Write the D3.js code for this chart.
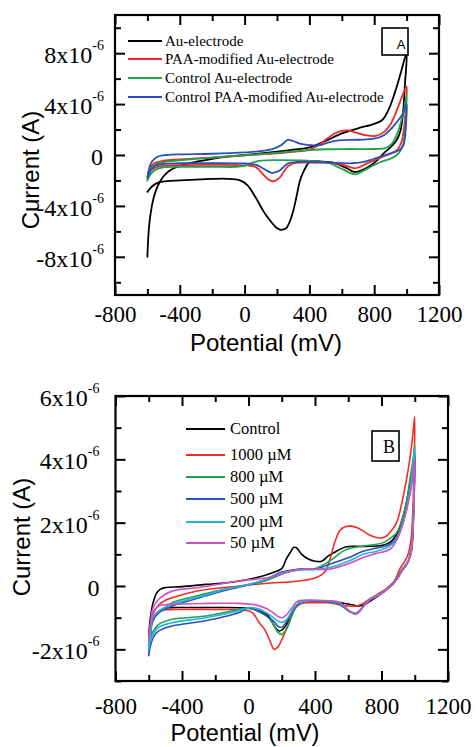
<!DOCTYPE html>
<html><head><meta charset="utf-8">
<script src="https://cdn.jsdelivr.net/npm/d3@7"></script>
<style>
body{margin:0;background:#fff}
svg{display:block}
</style>
</head><body>
<svg id="c" width="476" height="747"></svg>
<script>
// ---------------- DATA ----------------
// Potentials in mV, currents in µA (tick labels show x10^-6 A)
const xMajorTicks = [-800, -400, 0, 400, 800, 1200];
const xMinorTicks = [-600, -200, 200, 600, 1000];
const yMajorTicksA = [-8, -4, 0, 4, 8];
const yMinorTicksA = [-10, -6, -2, 2, 6, 10];
const yMajorTicksB = [-2, 0, 2, 4, 6];
const yMinorTicksB = [-3, -1, 1, 3, 5];

const namesA = ["Au-electrode", "PAA-modified Au-electrode", "Control Au-electrode", "Control PAA-modified Au-electrode"];
const namesB = ["Control", "1000 µM", "800 µM", "500 µM", "200 µM", "50 µM"];

// Panel A cyclic voltammograms: [potential mV, current µA], forward then reverse scan
const auElectrode = [[-600,-8.0],[-596,-6.8],[-588,-5.4],[-575,-4.2],[-558,-3.2],[-535,-2.4],[-505,-1.75],[-470,-1.3],[-430,-1.0],[-350,-0.68],[-250,-0.42],[-130,-0.17],[0,0.0],[130,0.17],[300,0.42],[400,0.6],[500,1.1],[600,1.7],[700,2.1],[800,2.45],[850,2.75],[890,3.6],[930,5.0],[965,6.5],[1000,8.0],
  [990,5.6],[978,3.3],[962,1.9],[940,1.2],[900,0.6],[860,0.15],[820,-0.4],[780,-0.8],[740,-1.1],[700,-1.3],[675,-1.33],[640,-1.1],[600,-0.85],[550,-0.62],[480,-0.52],[420,-0.5],[395,-0.62],[380,-0.9],[360,-1.4],[342,-2.0],[320,-3.3],[300,-4.4],[280,-5.2],[260,-5.7],[240,-5.85],[218,-5.87],[195,-5.7],[167,-5.3],[140,-4.85],[114,-4.37],[80,-3.6],[52,-3.0],[20,-2.4],[-28,-2.0],[-110,-1.87],[-200,-1.88],[-300,-1.93],[-400,-2.0],[-480,-2.06],[-530,-2.15],[-565,-2.4],[-600,-2.9]];
const paaElectrode = [[-600,-1.7],[-590,-1.2],[-575,-0.85],[-550,-0.6],[-500,-0.45],[-400,-0.35],[-200,-0.2],[0,-0.03],[200,0.13],[300,0.25],[400,0.42],[460,0.8],[500,1.2],[550,1.65],[600,1.9],[640,1.93],[690,1.75],[750,1.55],[810,1.5],[860,1.8],[900,2.4],[930,3.2],[960,4.2],[1000,5.4],
  [995,3.8],[985,2.2],[970,1.1],[945,0.45],[900,0.1],[850,-0.15],[800,-0.42],[750,-0.7],[710,-0.95],[680,-1.05],[650,-0.95],[600,-0.75],[550,-0.65],[480,-0.6],[400,-0.6],[300,-0.65],[265,-0.93],[240,-1.35],[215,-1.8],[190,-2.02],[167,-2.06],[145,-1.9],[115,-1.55],[85,-1.1],[60,-0.9],[20,-0.82],[-200,-0.78],[-400,-0.8],[-500,-0.85],[-550,-0.98],[-580,-1.25],[-600,-1.7]];
const controlAu = [[-600,-2.0],[-590,-1.5],[-575,-1.05],[-550,-0.72],[-500,-0.55],[-400,-0.42],[-300,-0.3],[-150,-0.15],[0,-0.02],[150,0.12],[300,0.28],[400,0.38],[500,0.45],[650,0.47],[800,0.47],[870,0.55],[910,0.9],[940,1.6],[965,2.6],[985,3.6],[1000,4.7],
  [997,3.2],[990,1.8],[980,0.9],[960,0.3],[930,-0.1],[890,-0.35],[840,-0.55],[790,-0.85],[740,-1.2],[700,-1.45],[680,-1.52],[650,-1.4],[610,-1.15],[560,-0.85],[520,-0.62],[450,-0.5],[350,-0.43],[200,-0.4],[100,-0.45],[50,-0.6],[0,-0.85],[-50,-0.93],[-200,-0.93],[-400,-0.93],[-500,-0.97],[-550,-1.15],[-580,-1.5],[-600,-2.0]];
const controlPaa = [[-600,-1.8],[-592,-1.2],[-580,-0.7],[-560,-0.35],[-530,-0.1],[-480,0.0],[-400,0.05],[-200,0.1],[0,0.2],[100,0.3],[180,0.5],[230,0.8],[265,1.18],[300,1.1],[340,0.9],[400,0.78],[460,0.75],[520,1.0],[580,1.15],[700,1.2],[800,1.28],[860,1.55],[900,2.0],[940,2.6],[975,3.2],[1000,4.0],
  [997,2.6],[990,1.4],[978,0.7],[955,0.4],[920,0.2],[870,0.0],[820,-0.2],[770,-0.42],[720,-0.58],[660,-0.65],[580,-0.62],[480,-0.58],[400,-0.55],[320,-0.55],[270,-0.66],[240,-0.95],[219,-1.19],[190,-1.35],[167,-1.4],[140,-1.25],[115,-1.06],[80,-0.82],[40,-0.7],[0,-0.66],[-200,-0.64],[-400,-0.65],[-500,-0.7],[-550,-0.85],[-580,-1.2],[-600,-1.8]];

// Panel B cyclic voltammograms
const control = [[-600,-1.55],[-590,-1.0],[-575,-0.55],[-555,-0.25],[-530,-0.1],[-499,-0.05],[-400,-0.02],[-258,0.05],[-100,0.12],[45,0.26],[145,0.42],[200,0.55],[226,0.84],[250,1.05],[272,1.22],[290,1.2],[320,1.0],[360,0.85],[400,0.78],[440,0.78],[480,0.95],[530,1.1],[588,1.24],[700,1.25],[800,1.28],[850,1.38],[890,1.62],[930,2.2],[960,2.9],[985,3.7],[1000,4.2],
  [996,2.9],[990,1.9],[980,1.15],[960,0.78],[940,0.62],[921,0.5],[900,0.3],[870,0.1],[840,-0.05],[790,-0.28],[740,-0.45],[700,-0.58],[665,-0.63],[630,-0.6],[580,-0.55],[520,-0.5],[450,-0.47],[400,-0.47],[340,-0.5],[300,-0.55],[266,-0.8],[240,-1.1],[210,-1.35],[185,-1.42],[160,-1.3],[120,-0.95],[80,-0.82],[40,-0.75],[0,-0.7],[-200,-0.68],[-400,-0.68],[-500,-0.7],[-540,-0.8],[-570,-1.0],[-590,-1.3],[-600,-1.55]];
const conc1000 = [[-600,-1.65],[-590,-1.2],[-575,-0.85],[-540,-0.6],[-500,-0.45],[-459,-0.37],[-300,-0.15],[-56,0.0],[100,0.08],[306,0.16],[400,0.25],[460,0.45],[490,0.85],[520,1.4],[550,1.75],[580,1.87],[619,1.89],[650,1.85],[689,1.74],[730,1.6],[770,1.53],[800,1.52],[830,1.58],[860,1.75],[891,2.0],[931,2.84],[961,3.68],[985,4.6],[1000,5.35],
  [995,3.6],[988,2.3],[978,1.5],[960,1.0],[940,0.78],[911,0.55],[891,0.3],[870,0.1],[830,-0.08],[780,-0.25],[730,-0.4],[690,-0.55],[650,-0.63],[600,-0.63],[540,-0.58],[488,-0.53],[400,-0.53],[320,-0.55],[290,-0.65],[266,-0.84],[240,-1.2],[206,-1.63],[180,-1.9],[155,-2.0],[130,-1.75],[100,-1.4],[65,-1.16],[30,-0.88],[0,-0.78],[-200,-0.74],[-400,-0.74],[-500,-0.75],[-540,-0.8],[-570,-0.95],[-590,-1.25],[-600,-1.65]];
const conc800 = [[-600,-1.9],[-590,-1.4],[-575,-1.0],[-540,-0.84],[-459,-0.53],[-300,-0.3],[-150,-0.1],[0,0.05],[100,0.16],[200,0.37],[300,0.53],[400,0.55],[488,0.79],[530,0.95],[568,1.1],[620,1.2],[689,1.26],[750,1.3],[810,1.37],[850,1.5],[891,1.68],[941,2.42],[971,3.37],[990,4.0],[1000,4.45],
  [996,3.0],[990,2.0],[980,1.2],[960,0.8],[940,0.62],[921,0.5],[900,0.3],[870,0.1],[850,-0.02],[790,-0.26],[729,-0.42],[690,-0.65],[669,-0.78],[645,-0.88],[610,-0.82],[579,-0.7],[540,-0.55],[488,-0.52],[400,-0.47],[330,-0.5],[290,-0.62],[260,-0.95],[230,-1.35],[200,-1.53],[175,-1.45],[150,-1.2],[110,-0.95],[60,-0.8],[4,-0.7],[-56,-0.74],[-258,-0.95],[-459,-1.05],[-540,-1.21],[-570,-1.4],[-590,-1.6],[-600,-1.9]];
const conc500 = [[-600,-2.2],[-590,-1.6],[-575,-1.1],[-540,-0.85],[-459,-0.63],[-300,-0.38],[-150,-0.15],[0,0.03],[100,0.2],[200,0.44],[300,0.53],[400,0.53],[488,0.69],[600,0.89],[689,1.1],[770,1.2],[850,1.32],[900,1.6],[940,2.2],[970,3.0],[990,3.6],[1000,4.1],
  [996,2.9],[990,1.9],[980,1.1],[960,0.75],[940,0.6],[921,0.48],[900,0.28],[870,0.08],[850,-0.03],[790,-0.27],[729,-0.43],[690,-0.65],[669,-0.78],[645,-0.87],[610,-0.8],[579,-0.68],[540,-0.55],[488,-0.5],[400,-0.47],[330,-0.5],[290,-0.6],[260,-0.85],[225,-1.15],[200,-1.31],[180,-1.28],[150,-1.1],[110,-0.95],[60,-0.8],[4,-0.68],[-56,-0.84],[-258,-1.1],[-459,-1.26],[-540,-1.42],[-570,-1.6],[-590,-1.9],[-600,-2.2]];
const conc200 = [[-600,-2.0],[-590,-1.5],[-575,-1.0],[-540,-0.8],[-459,-0.58],[-300,-0.35],[-150,-0.12],[0,0.05],[100,0.2],[200,0.4],[300,0.5],[400,0.52],[488,0.58],[600,0.78],[689,1.0],[770,1.1],[850,1.26],[900,1.55],[940,2.2],[970,3.0],[990,3.8],[1000,4.35],
  [996,3.0],[990,2.0],[980,1.15],[960,0.78],[940,0.6],[921,0.48],[900,0.28],[870,0.08],[850,-0.03],[790,-0.26],[729,-0.43],[690,-0.66],[669,-0.8],[645,-0.9],[610,-0.8],[579,-0.66],[540,-0.52],[488,-0.48],[400,-0.46],[330,-0.5],[290,-0.58],[260,-0.8],[225,-1.08],[205,-1.14],[180,-1.12],[150,-1.0],[110,-0.85],[60,-0.72],[4,-0.68],[-56,-0.78],[-258,-1.0],[-459,-1.16],[-540,-1.3],[-570,-1.5],[-590,-1.75],[-600,-2.0]];
const conc50 = [[-600,-1.75],[-590,-1.2],[-575,-0.7],[-540,-0.42],[-459,-0.16],[-300,-0.05],[-56,0.16],[100,0.25],[200,0.38],[306,0.53],[400,0.53],[488,0.53],[600,0.7],[689,0.9],[770,1.03],[850,1.16],[891,1.45],[930,2.0],[960,2.6],[985,3.3],[1000,4.0],
  [996,2.8],[990,1.8],[980,1.1],[960,0.75],[940,0.58],[921,0.45],[900,0.26],[870,0.06],[850,-0.04],[790,-0.28],[729,-0.45],[690,-0.66],[669,-0.8],[645,-0.88],[610,-0.8],[579,-0.65],[540,-0.5],[488,-0.47],[400,-0.45],[330,-0.45],[290,-0.5],[260,-0.7],[230,-0.9],[206,-1.0],[180,-0.97],[150,-0.85],[110,-0.72],[60,-0.62],[20,-0.58],[-56,-0.55],[-258,-0.55],[-459,-0.58],[-540,-0.63],[-570,-0.85],[-590,-1.2],[-600,-1.75]];

const seriesA = [auElectrode, paaElectrode, controlAu, controlPaa];
const seriesB = [control, conc1000, conc800, conc500, conc200, conc50];

// ---------------- STYLE / LAYOUT ----------------
const colorsA = ["#000000", "#f42a26", "#1ea24c", "#2d4fb9"];
const colorsB = ["#000000", "#f42a26", "#1ea24c", "#2d4fb9", "#1fb5df", "#d24fbf"];
const serif = "'Liberation Serif','Times New Roman',serif";
const sans = "'Liberation Sans',Arial,sans-serif";

const svg = d3.select("#c");
svg.append("rect").attr("width",476).attr("height",747).attr("fill","#fff");

function panel(cfg){
  const x = d3.scaleLinear().domain([-800,1200]).range([cfg.L, cfg.R]);
  const y = d3.scaleLinear().domain(cfg.yDomain).range([cfg.B, cfg.T]);
  const g = svg.append("g");

  // data curves
  const line = d3.line().x(d=>x(d[0])).y(d=>y(d[1])).curve(d3.curveCatmullRom.alpha(0.5));
  cfg.series.forEach((s,i)=>{
    g.append("path").attr("d", line(s)).attr("fill","none")
      .attr("stroke", cfg.colors[i]).attr("stroke-width", cfg.lw)
      .attr("stroke-linejoin","round").attr("stroke-linecap","round");
  });

  // axes (inward ticks on all four sides)
  function styleAxis(sel){
    sel.select(".domain").remove();
    sel.selectAll(".tick line").attr("stroke","#000").attr("stroke-width",2);
  }
  const bottomMaj = g.append("g").attr("transform",`translate(0,${cfg.B})`)
    .call(d3.axisBottom(x).tickValues(xMajorTicks).tickSize(-10).tickPadding(cfg.xPad).tickFormat(d=>String(d)));
  styleAxis(bottomMaj);
  bottomMaj.attr("font-family",serif);
  bottomMaj.selectAll("text").attr("font-family",serif).attr("font-size",23).attr("fill","#000");
  g.append("g").attr("transform",`translate(0,${cfg.B})`)
    .call(d3.axisBottom(x).tickValues(xMinorTicks).tickSize(-6).tickFormat("")).call(styleAxis);
  g.append("g").attr("transform",`translate(0,${cfg.T})`)
    .call(d3.axisTop(x).tickValues(xMajorTicks).tickSize(-10).tickFormat("")).call(styleAxis);
  g.append("g").attr("transform",`translate(0,${cfg.T})`)
    .call(d3.axisTop(x).tickValues(xMinorTicks).tickSize(-6).tickFormat("")).call(styleAxis);

  const leftMaj = g.append("g").attr("transform",`translate(${cfg.L},0)`)
    .call(d3.axisLeft(y).tickValues(cfg.yMajor).tickSize(-10).tickPadding(cfg.yPad).tickFormat(d=>String(d)));
  styleAxis(leftMaj);
  leftMaj.attr("font-family",serif);
  leftMaj.selectAll("text").each(function(d){
    const t = d3.select(this);
    t.text(null).attr("font-family",serif).attr("font-size",24).attr("fill","#000").attr("dy","0.4em");
    if (d === 0){
      t.attr("x", -cfg.zeroPad).text("0");
    } else {
      t.append("tspan").text(d + "x10");
      t.append("tspan").attr("font-size",14).attr("dy",-13).text("-6");
    }
  });
  g.append("g").attr("transform",`translate(${cfg.L},0)`)
    .call(d3.axisLeft(y).tickValues(cfg.yMinor).tickSize(-6).tickFormat("")).call(styleAxis);
  g.append("g").attr("transform",`translate(${cfg.R},0)`)
    .call(d3.axisRight(y).tickValues(cfg.yMajor).tickSize(-10).tickFormat("")).call(styleAxis);
  g.append("g").attr("transform",`translate(${cfg.R},0)`)
    .call(d3.axisRight(y).tickValues(cfg.yMinor).tickSize(-6).tickFormat("")).call(styleAxis);

  // frame
  g.append("rect").attr("x",cfg.L).attr("y",cfg.T).attr("width",cfg.R-cfg.L).attr("height",cfg.B-cfg.T)
    .attr("fill","none").attr("stroke","#000").attr("stroke-width",2.2);

  // axis titles
  g.append("text").attr("x",cfg.xTitle[0]).attr("y",cfg.xTitle[1]).attr("text-anchor","middle")
    .attr("font-family",sans).attr("font-size",cfg.xTitleFs).attr("fill","#000").text("Potential (mV)");
  g.append("text").attr("transform",`translate(${cfg.yTitle[0]},${cfg.yTitle[1]}) rotate(-90)`)
    .attr("text-anchor","middle").attr("font-family",sans).attr("font-size",24).attr("fill","#000").text("Current (A)");

  // legend
  cfg.names.forEach((n,i)=>{
    const ly = cfg.legY[i];
    g.append("line").attr("x1",cfg.legX[0]).attr("x2",cfg.legX[1]).attr("y1",ly).attr("y2",ly)
      .attr("stroke",cfg.colors[i]).attr("stroke-width",2);
    g.append("text").attr("x",cfg.legX[2]).attr("y",ly+cfg.legFs*0.33).attr("font-family",serif)
      .attr("font-size",cfg.legFs).attr("fill","#000").text(n);
  });

  // panel tag box
  const b = cfg.box;
  g.append("rect").attr("x",b.x).attr("y",b.y).attr("width",b.w).attr("height",b.h)
    .attr("fill","#fff").attr("stroke","#000").attr("stroke-width",1.6);
  g.append("text").attr("x",b.tx).attr("y",b.ty).attr("text-anchor","middle")
    .attr("font-family",b.font).attr("font-size",b.fs).attr("fill","#000").text(b.label);
}

panel({L:115, R:439, T:15, B:295, yDomain:[-11,11], yMajor:yMajorTicksA, yMinor:yMinorTicksA,
  series:seriesA, colors:colorsA, names:namesA, lw:1.8, xPad:11, yPad:11, zeroPad:12,
  xTitle:[266,351], xTitleFs:24, yTitle:[39,170],
  legX:[128,162,165], legY:[41,59,78,97], legFs:15,
  box:{x:382,y:28,w:26,h:27,tx:401,ty:49,label:"A",font:sans,fs:13}});

panel({L:115.5, R:448, T:396, B:681, yDomain:[-3,6], yMajor:yMajorTicksB, yMinor:yMinorTicksB,
  series:seriesB, colors:colorsB, names:namesB, lw:1.6, xPad:17, yPad:16, zeroPad:16,
  xTitle:[245,741], xTitleFs:23.5, yTitle:[30,537],
  legX:[186,225,230], legY:[429,455,477,499,522,543], legFs:16.5,
  box:{x:372,y:431,w:27,h:30,tx:389,ty:453,label:"B",font:serif,fs:18}});
</script>
</body></html>
